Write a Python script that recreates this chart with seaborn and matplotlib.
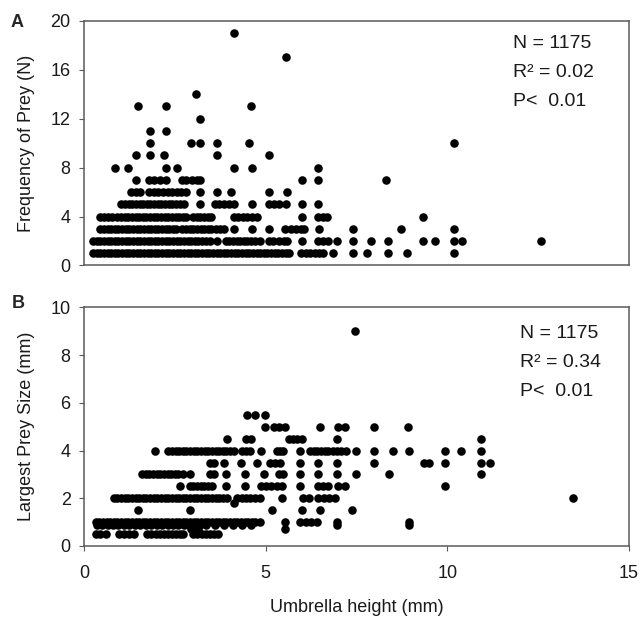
import pandas as pd
import matplotlib
matplotlib.use("Agg")
import matplotlib.pyplot as plt
import seaborn as sns

# ---- Panel A: frequency of prey (N) against umbrella height (mm) ----
# umbrella heights recorded at each prey count
freq_1 = [0.25, 0.35, 0.45, 0.55, 0.65, 0.75, 0.85, 0.95, 1.05, 1.15, 1.25, 1.35,
          1.45, 1.55, 1.65, 1.75, 1.85, 1.95, 2.05, 2.15, 2.25, 2.35, 2.45, 2.55,
          2.65, 2.75, 2.85, 2.95, 3.05, 3.15, 3.25, 3.35, 3.45, 3.55, 3.65, 3.75,
          3.85, 3.95, 4.05, 4.15, 4.25, 4.35, 4.45, 4.55, 4.65, 4.75, 4.85, 4.95,
          5.05, 5.15, 5.25, 5.35, 5.45, 5.55, 5.63, 5.98, 6.1, 6.22, 6.35, 6.48,
          6.58, 6.86, 7.4, 7.8, 8.36, 8.89, 10.18]
freq_2 = [0.25, 0.35, 0.45, 0.55, 0.65, 0.75, 0.85, 0.95, 1.05, 1.15, 1.25, 1.35,
          1.45, 1.55, 1.65, 1.75, 1.85, 1.95, 2.05, 2.15, 2.25, 2.35, 2.45, 2.55,
          2.65, 2.75, 2.85, 2.95, 3.05, 3.15, 3.25, 3.35, 3.48, 3.67, 3.9, 4.0,
          4.1, 4.2, 4.3, 4.4, 4.5, 4.6, 4.7, 4.85, 5.08, 5.2, 5.36, 5.5, 5.6, 6.0,
          6.45, 6.58, 6.72, 6.95, 7.4, 7.89, 8.36, 9.32, 9.66, 10.18, 10.4, 12.58]
freq_3 = [0.44, 0.55, 0.65, 0.75, 0.85, 0.95, 1.05, 1.15, 1.25, 1.35, 1.45, 1.55,
          1.65, 1.75, 1.85, 1.95, 2.05, 2.15, 2.25, 2.35, 2.45, 2.53, 2.71, 2.81,
          2.91, 3.01, 3.11, 3.21, 3.31, 3.41, 3.49, 3.62, 3.75, 3.85, 4.12, 4.63,
          5.08, 5.54, 5.7, 5.84, 5.97, 6.06, 6.47, 7.4, 8.72, 10.18]
freq_4 = [0.44, 0.55, 0.66, 0.76, 0.92, 1.02, 1.12, 1.22, 1.32, 1.42, 1.52, 1.62,
          1.72, 1.82, 1.92, 2.02, 2.12, 2.22, 2.32, 2.42, 2.52, 2.62, 2.72, 2.81,
          3.0, 3.1, 3.2, 3.3, 3.4, 3.5, 4.12, 4.25, 4.38, 4.5, 4.63, 4.77, 6.0,
          6.45, 6.58, 6.7, 9.32]
freq_5 = [1.03, 1.13, 1.23, 1.33, 1.43, 1.53, 1.63, 1.73, 1.83, 1.93, 2.03, 2.13,
          2.23, 2.33, 2.43, 2.53, 2.63, 2.75, 3.2, 3.6, 3.72, 3.85, 3.98, 4.12,
          4.63, 5.08, 5.22, 5.36, 5.56, 6.0, 6.45]
freq_6 = [1.3, 1.42, 1.53, 1.8, 1.92, 2.05, 2.17, 2.3, 2.42, 2.55, 2.68, 2.8, 3.2,
          3.67, 4.05, 5.08, 5.58]
freq_7 = [1.44, 1.8, 1.94, 2.08, 2.26, 2.7, 2.8, 2.97, 3.1, 3.2, 6.0, 6.45, 8.31]
freq_8 = [0.86, 1.2, 2.26, 2.56, 4.12, 4.63, 6.45]
freq_9 = [1.42, 1.83, 2.21, 3.67, 5.08]
freq_10 = [1.83, 2.94, 3.2, 3.67, 4.54, 10.18]
freq_11 = [1.83, 2.26]
freq_12 = [3.2]
freq_13 = [1.5, 2.26, 4.61]
freq_14 = [3.07]
freq_17 = [5.57]
freq_19 = [4.12]

freq_levels = [1, 2, 3, 4, 5, 6, 7, 8, 9, 10, 11, 12, 13, 14, 17, 19]
freq_heights = [freq_1, freq_2, freq_3, freq_4, freq_5, freq_6, freq_7, freq_8,
                freq_9, freq_10, freq_11, freq_12, freq_13, freq_14, freq_17, freq_19]

# ---- Panel B: largest prey size (mm) against umbrella height (mm) ----
size_9_0 = [7.47]
size_5_5 = [4.49, 4.72, 4.97]
size_5_0 = [4.97, 5.22, 5.36, 5.54, 6.5, 6.98, 7.18, 7.98, 8.91]
size_4_5 = [3.95, 4.45, 4.6, 5.63, 5.75, 5.87, 5.99, 6.97, 10.93]
size_4_0 = [1.96, 2.32, 2.42, 2.52, 2.62, 2.72, 2.82, 2.92, 3.02, 3.12, 3.22, 3.32,
            3.42, 3.52, 3.62, 3.72, 3.82, 3.92, 4.02, 4.13, 4.35, 4.47, 4.58, 4.86,
            5.31, 5.4, 5.49, 5.95, 6.22, 6.32, 6.42, 6.52, 6.62, 6.72, 6.84, 6.95,
            7.08, 7.2, 7.5, 7.98, 8.5, 8.95, 9.93, 10.37, 10.93]
size_3_5 = [3.46, 3.58, 3.85, 4.31, 4.76, 5.13, 5.27, 5.4, 5.95, 6.45, 6.97, 7.98,
            9.36, 9.5, 9.93, 10.93, 11.18]
size_3_0 = [1.6, 1.7, 1.8, 1.9, 2.0, 2.1, 2.2, 2.3, 2.4, 2.5, 2.6, 2.73, 2.91,
            3.46, 3.58, 3.9, 4.44, 4.95, 5.36, 5.49, 5.95, 6.45, 6.97, 7.5, 8.39,
            10.93]
size_2_5 = [2.64, 2.91, 3.01, 3.11, 3.21, 3.31, 3.41, 3.51, 3.9, 4.44, 4.86, 5.0,
            5.15, 5.3, 5.45, 5.95, 6.45, 6.58, 6.72, 6.98, 7.18, 9.93]
size_2_0 = [0.82, 0.92, 1.02, 1.12, 1.22, 1.32, 1.42, 1.52, 1.62, 1.72, 1.82, 1.92,
            2.02, 2.12, 2.22, 2.32, 2.42, 2.52, 2.62, 2.72, 2.82, 2.92, 3.02, 3.12,
            3.22, 3.32, 3.42, 3.52, 3.62, 3.72, 3.82, 3.95, 4.22, 4.34, 4.46, 4.58,
            4.7, 4.85, 5.45, 6.04, 6.18, 6.45, 6.6, 6.75, 6.9, 13.46]
size_1_8 = [4.13]
size_1_5 = [1.5, 2.91, 5.17, 5.99, 6.5, 7.38]
size_1_0 = [0.32, 0.42, 0.52, 0.62, 0.72, 0.82, 0.92, 1.02, 1.12, 1.22, 1.32, 1.42,
            1.52, 1.62, 1.72, 1.82, 1.92, 2.02, 2.12, 2.22, 2.32, 2.42, 2.52, 2.62,
            2.72, 2.82, 2.92, 3.02, 3.12, 3.22, 3.32, 3.42, 3.52, 3.62, 3.72, 3.82,
            3.92, 4.02, 4.12, 4.22, 4.32, 4.42, 4.52, 4.62, 4.72, 4.85, 5.54, 5.95,
            6.1, 6.25, 6.42, 6.95, 8.95]
size_0_9 = [0.35, 0.5, 0.65, 0.8, 0.95, 1.1, 1.25, 1.4, 1.55, 1.7, 1.85, 2.0, 2.15,
            2.3, 2.45, 2.6, 2.75, 2.9, 3.05, 3.2, 3.35, 3.6, 3.85, 4.1, 4.35, 4.6,
            6.97, 8.95]
size_0_7 = [2.95, 3.05, 3.15, 5.54]
size_0_5 = [0.32, 0.45, 0.6, 0.96, 1.1, 1.23, 1.37, 1.73, 1.85, 1.98, 2.1, 2.19,
            2.3, 2.41, 2.52, 2.63, 2.73, 3.0, 3.12, 3.24, 3.35, 3.46, 3.58, 3.7]

size_levels = [9.0, 5.5, 5.0, 4.5, 4.0, 3.5, 3.0, 2.5, 2.0, 1.8, 1.5, 1.0, 0.9,
               0.7, 0.5]
size_heights = [size_9_0, size_5_5, size_5_0, size_4_5, size_4_0, size_3_5,
                size_3_0, size_2_5, size_2_0, size_1_8, size_1_5, size_1_0,
                size_0_9, size_0_7, size_0_5]

df_a = pd.DataFrame([(h, lvl) for lvl, hs in zip(freq_levels, freq_heights) for h in hs],
                    columns=["height", "freq"])
df_b = pd.DataFrame([(h, lvl) for lvl, hs in zip(size_levels, size_heights) for h in hs],
                    columns=["height", "size"])

sns.set_theme(style="white")
plt.rcParams["font.family"] = ["Liberation Sans", "DejaVu Sans"]

fig = plt.figure(figsize=(6.44, 6.26), dpi=100)
ax_a = fig.add_axes([0.1304, 0.5759, 0.8463, 0.391])
ax_b = fig.add_axes([0.1304, 0.1278, 0.8463, 0.381])

spine_col = "#5a5a5a"
text_col = "#1a1a1a"
for ax, df, ycol in [(ax_a, df_a, "freq"), (ax_b, df_b, "size")]:
    sns.scatterplot(data=df, x="height", y=ycol, ax=ax, color="black", s=38,
                    linewidth=0, legend=False)
    ax.set_xlim(0, 15)
    for sp in ax.spines.values():
        sp.set_color(spine_col)
        sp.set_linewidth(1.1)
    ax.tick_params(axis="y", left=True, direction="out", length=3.6, width=0.8,
                   color=spine_col, labelsize=13, pad=6, labelcolor=text_col)

ax_a.set_ylim(0, 20)
ax_a.set_yticks([0, 4, 8, 12, 16, 20])
ax_a.set_xticks([])
ax_a.set_xlabel("")
ax_a.set_ylabel("Frequency of Prey (N)", fontsize=13, labelpad=11, color=text_col)

ax_b.set_ylim(0, 10)
ax_b.set_yticks([0, 2, 4, 6, 8, 10])
ax_b.set_xticks([0, 5, 10, 15])
ax_b.tick_params(axis="x", bottom=True, direction="out", length=3.6, width=0.8,
                 color=spine_col, labelsize=13, pad=10, labelcolor=text_col)
ax_b.set_xlabel("Umbrella height (mm)", fontsize=13, labelpad=12, color=text_col)
ax_b.set_ylabel("Largest Prey Size (mm)", fontsize=13, labelpad=11, color=text_col)

# panel letters
fig.text(17 / 644, 1 - 14 / 626, "A", fontsize=13, fontweight="bold", va="top", ha="center")
fig.text(18 / 644, 1 - 295 / 626, "B", fontsize=13, fontweight="bold", va="top", ha="center")

# statistics
stats_a = ["N = 1175", "R² = 0.02", "P<  0.01"]
stats_b = ["N = 1175", "R² = 0.34", "P<  0.01"]
for i, line in enumerate(stats_a):
    fig.text(513 / 644, 1 - (35 + 29 * i) / 626, line, fontsize=14, va="top", color=text_col)
for i, line in enumerate(stats_b):
    fig.text(520 / 644, 1 - (325 + 29 * i) / 626, line, fontsize=14, va="top", color=text_col)

fig.savefig("out.png", dpi=100)
plt.close(fig)
